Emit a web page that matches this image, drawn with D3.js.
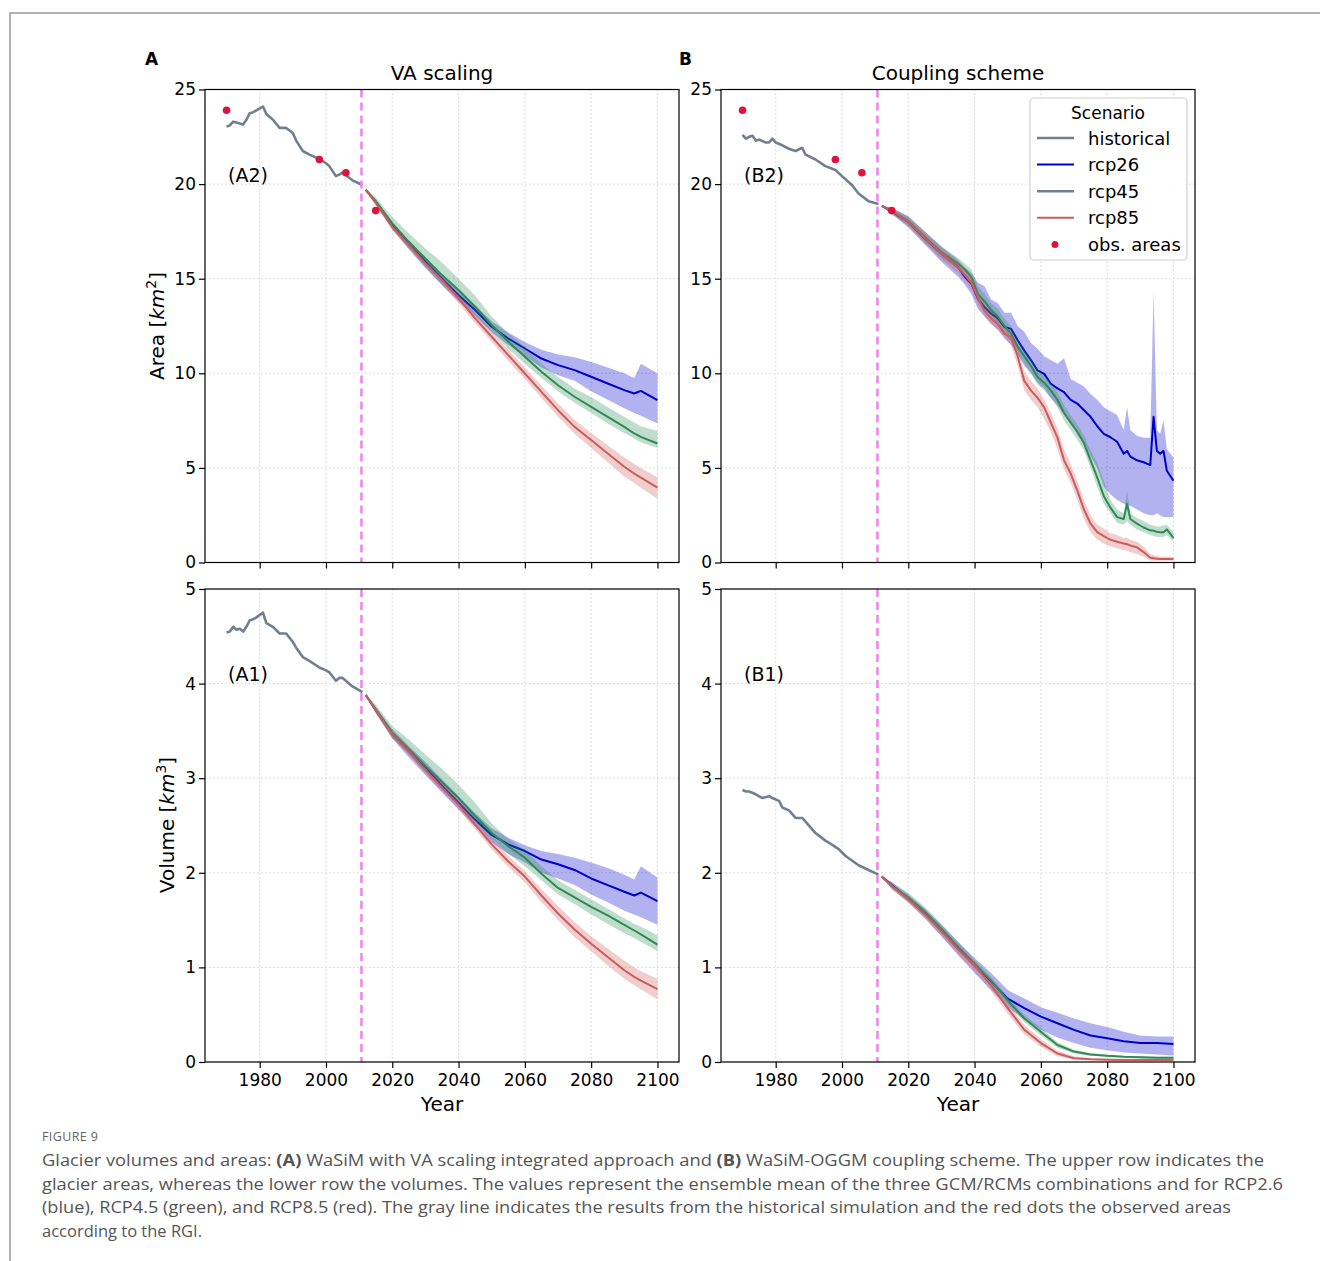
<!DOCTYPE html>
<html lang="en">
<head>
<meta charset="utf-8">
<title>Glacier volumes and areas</title>
<script src="https://cdn.jsdelivr.net/npm/d3@7"></script>
<style>
  body { margin: 0; background: #fff; }
  svg text { font-family: "DejaVu Sans", sans-serif; }
</style>
</head>
<body>
<script>
// ---------- data ----------
var xTicks = [1980, 2000, 2020, 2040, 2060, 2080, 2100];
var areaTicks = [0, 5, 10, 15, 20, 25];
var volTicks = [0, 1, 2, 3, 4, 5];
var cutYear = 2010.7;

var obsYears = [1970, 1998, 2006, 2015];
var obsAreas = [23.9, 21.3, 20.6, 18.6];

// historical simulation, VA scaling (A)
var histYearsA = [1970,1971,1972,1973,1974,1975,1976,1977,1978,1979,1981,1982,1984,1986,1988,1990,1991,1993,1995,1998,2000,2001,2003,2004,2005,2008,2011];
var histAreaA  = [23.05,23.1,23.3,23.25,23.2,23.15,23.4,23.75,23.8,23.9,24.1,23.7,23.4,22.97,22.97,22.7,22.3,21.75,21.56,21.33,21.1,20.95,20.42,20.5,20.6,20.2,19.95];
var histVolA   = [4.54,4.55,4.6,4.57,4.58,4.55,4.6,4.67,4.68,4.7,4.75,4.64,4.6,4.53,4.53,4.44,4.38,4.28,4.24,4.17,4.14,4.12,4.03,4.06,4.06,3.97,3.91];

// historical simulation, coupling scheme (B)
var histYearsB2 = [1970,1971,1972,1973,1974,1975,1977,1978,1979,1980,1982,1984,1986,1988,1989,1992,1995,1998,2000,2003,2005,2008,2011];
var histAreaB   = [22.6,22.4,22.5,22.55,22.3,22.35,22.2,22.2,22.4,22.2,22.05,21.87,21.75,21.92,21.56,21.3,20.95,20.75,20.42,19.95,19.5,19.1,18.95];
var histYearsB1 = [1970,1971,1972,1974,1976,1978,1979,1981,1982,1984,1986,1988,1989,1992,1995,1996,1999,2001,2003,2005,2008,2011];
var histVolB    = [2.875,2.86,2.86,2.83,2.79,2.81,2.79,2.76,2.69,2.66,2.58,2.58,2.54,2.42,2.34,2.32,2.25,2.18,2.13,2.08,2.03,1.98];

// scenarios, VA scaling (A)
var scenYearsA = [2012,2015,2020,2025,2030,2035,2040,2045,2050,2055,2060,2065,2070,2075,2080,2085,2090,2093,2095,2100];
var areaA26    = [19.7,19.07,17.83,16.86,15.9,15.01,14.13,13.34,12.46,11.84,11.31,10.78,10.43,10.17,9.82,9.46,9.11,8.93,9.07,8.58];
var areaA26lo  = [19.7,18.95,17.6,16.55,15.55,14.65,13.8,13.0,12.15,11.5,10.9,10.3,9.9,9.6,9.05,8.6,8.15,7.9,7.75,7.35];
var areaA26hi  = [19.7,19.15,17.95,17.0,16.05,15.15,14.35,13.6,12.75,12.15,11.65,11.25,11.0,10.85,10.6,10.3,10.0,9.75,10.5,10.0];
var areaA45    = [19.7,19.1,17.92,16.95,16.07,15.19,14.4,13.52,12.55,11.67,10.87,10.08,9.37,8.76,8.23,7.7,7.17,6.82,6.64,6.29];
var areaA45lo  = [19.7,18.9,17.6,16.6,15.65,14.7,13.95,13.1,12.2,11.3,10.5,9.75,9.05,8.45,7.9,7.35,6.85,6.55,6.35,6.05];
var areaA45hi  = [19.7,19.3,18.25,17.4,16.6,15.85,15.0,14.1,13.0,12.1,11.4,10.5,9.8,9.2,8.75,8.2,7.7,7.4,7.2,6.95];
var areaA85    = [19.7,19.0,17.74,16.78,15.81,14.93,13.96,12.9,11.93,10.96,9.99,9.02,8.05,7.17,6.47,5.76,5.06,4.7,4.49,3.96];
var areaA85lo  = [19.7,18.9,17.6,16.6,15.6,14.7,13.7,12.65,11.65,10.65,9.7,8.7,7.7,6.8,6.05,5.3,4.55,4.2,3.95,3.35];
var areaA85hi  = [19.7,19.1,17.85,16.9,15.95,15.1,14.15,13.15,12.2,11.25,10.3,9.35,8.4,7.55,6.85,6.2,5.55,5.2,5.0,4.5];

var volA26     = [3.88,3.72,3.47,3.29,3.11,2.92,2.74,2.56,2.40,2.30,2.23,2.14,2.09,2.03,1.94,1.87,1.80,1.76,1.79,1.70];
var volA26lo   = [3.88,3.69,3.42,3.22,3.03,2.85,2.67,2.49,2.32,2.2,2.11,2.0,1.94,1.87,1.77,1.69,1.6,1.56,1.53,1.45];
var volA26hi   = [3.88,3.75,3.52,3.34,3.17,2.99,2.81,2.63,2.47,2.37,2.29,2.23,2.2,2.16,2.11,2.05,1.98,1.93,2.07,1.95];
var volA45     = [3.88,3.73,3.48,3.31,3.13,2.96,2.79,2.6,2.42,2.28,2.16,1.99,1.84,1.74,1.64,1.55,1.45,1.39,1.35,1.24];
var volA45lo   = [3.88,3.69,3.42,3.25,3.06,2.88,2.72,2.54,2.36,2.2,2.07,1.92,1.77,1.67,1.56,1.46,1.36,1.31,1.27,1.17];
var volA45hi   = [3.88,3.78,3.55,3.41,3.25,3.1,2.93,2.74,2.52,2.36,2.24,2.07,1.92,1.82,1.72,1.62,1.52,1.46,1.43,1.34];
var volA85     = [3.88,3.72,3.46,3.28,3.09,2.9,2.72,2.51,2.30,2.12,1.96,1.76,1.57,1.40,1.25,1.11,0.97,0.9,0.86,0.77];
var volA85lo   = [3.88,3.7,3.43,3.25,3.05,2.86,2.67,2.46,2.25,2.06,1.9,1.69,1.5,1.32,1.17,1.02,0.88,0.81,0.77,0.66];
var volA85hi   = [3.88,3.74,3.49,3.31,3.12,2.95,2.77,2.56,2.36,2.18,2.02,1.83,1.65,1.48,1.33,1.2,1.07,1.0,0.96,0.88];

// scenarios, coupling scheme (B)
var scenYearsB2 = [2012,2015,2020,2025,2030,2035,2037,2039,2041,2043,2045,2047,2049,2051,2053,2055,2057,2059,2061,2063,2065,2067,2069,2071,2073,2075,2077,2079,2081,2083,2085,2086,2087,2089,2091,2093,2094,2095,2096,2097,2098,2100];
var areaB26   = [18.85,18.55,18.0,17.12,16.33,15.62,15.1,14.75,13.95,13.5,13.15,12.9,12.45,12.35,11.75,11.2,10.7,10.15,9.97,9.45,9.2,9.0,8.6,8.4,8.05,7.7,7.2,6.8,6.62,6.38,5.75,5.9,5.6,5.4,5.3,5.15,7.7,5.9,5.75,5.9,4.85,4.32];
var areaB26lo = [18.85,18.4,17.7,16.8,15.9,15.1,14.7,14.2,13.4,13.0,12.6,12.3,11.9,11.5,11.0,10.4,10.0,9.5,9.2,8.7,8.3,7.8,7.3,6.9,6.3,5.6,5.0,4.0,3.6,3.3,3.1,3.0,3.0,2.8,2.6,2.5,2.5,2.6,2.5,2.4,2.4,2.4];
var areaB26hi = [18.85,18.75,18.3,17.5,16.7,16.0,15.6,15.3,14.8,14.6,13.9,13.7,13.2,13.2,12.5,12.2,11.6,11.3,10.9,10.7,10.5,10.8,9.7,9.5,9.3,8.9,8.6,8.2,8.0,7.8,7.0,8.2,7.0,6.7,6.6,6.6,14.3,7.0,6.8,7.5,6.0,5.55];
var areaB45   = [18.85,18.6,18.05,17.2,16.4,15.8,15.5,15.1,14.2,13.8,13.35,13.0,12.5,12.1,11.4,10.9,10.4,9.8,9.5,9.1,8.6,7.9,7.4,6.9,6.3,5.4,4.5,3.5,2.9,2.4,2.3,3.1,2.3,2.05,1.85,1.7,1.68,1.62,1.6,1.6,1.75,1.3];
var areaB45lo = [18.85,18.45,17.8,16.9,16.1,15.5,15.2,14.7,13.9,13.4,13.0,12.6,12.1,11.7,11.0,10.5,10.0,9.4,9.1,8.7,8.2,7.5,7.0,6.5,5.9,5.0,4.0,3.1,2.6,2.1,2.0,2.2,2.0,1.75,1.6,1.45,1.4,1.35,1.35,1.35,1.45,1.1];
var areaB45hi = [18.85,18.75,18.3,17.5,16.7,16.1,15.8,15.5,14.6,14.2,13.7,13.4,12.9,12.5,11.8,11.3,10.8,10.2,9.9,9.5,9.0,8.3,7.8,7.3,6.7,5.9,5.3,4.3,3.3,2.8,2.6,3.8,2.6,2.35,2.2,2.0,1.95,1.9,1.9,1.95,2.0,1.6];
var areaB85   = [18.85,18.6,18.0,17.15,16.35,15.6,15.2,14.8,14.0,13.3,12.9,12.6,12.1,11.9,10.9,9.6,9.1,8.7,8.2,7.4,6.6,5.4,4.7,3.8,2.8,2.05,1.6,1.4,1.2,1.1,1.0,0.97,0.9,0.8,0.55,0.25,0.22,0.2,0.18,0.18,0.18,0.18];
var areaB85lo = [18.85,18.45,17.8,16.9,16.0,15.3,14.9,14.4,13.6,13.0,12.6,12.3,11.8,11.5,10.4,9.1,8.6,8.2,7.6,6.9,6.0,4.9,4.2,3.3,2.3,1.6,1.2,1.0,0.85,0.75,0.65,0.62,0.55,0.45,0.3,0.1,0.1,0.1,0.1,0.1,0.1,0.1];
var areaB85hi = [18.85,18.7,18.2,17.4,16.6,15.9,15.5,15.1,14.3,13.6,13.2,12.9,12.4,12.2,11.3,10.1,9.6,9.2,8.6,7.9,7.1,6.0,5.2,4.3,3.3,2.5,2.0,1.8,1.55,1.45,1.3,1.3,1.2,1.1,0.85,0.45,0.4,0.35,0.3,0.3,0.3,0.3];

var scenYearsB1 = [2012,2015,2020,2025,2030,2035,2040,2045,2050,2055,2060,2065,2070,2075,2080,2085,2090,2095,2100];
var volB26    = [1.96,1.87,1.73,1.57,1.39,1.20,1.02,0.85,0.67,0.57,0.48,0.41,0.34,0.28,0.25,0.22,0.20,0.20,0.19];
var volB26lo  = [1.96,1.84,1.69,1.52,1.33,1.13,0.94,0.76,0.58,0.45,0.34,0.26,0.2,0.15,0.125,0.1,0.09,0.08,0.07];
var volB26hi  = [1.96,1.9,1.77,1.62,1.45,1.27,1.1,0.94,0.76,0.67,0.58,0.52,0.46,0.41,0.37,0.32,0.28,0.27,0.27];
var volB45    = [1.96,1.86,1.74,1.59,1.41,1.22,1.04,0.86,0.65,0.46,0.32,0.18,0.11,0.08,0.065,0.055,0.05,0.045,0.045];
var volB45lo  = [1.96,1.82,1.7,1.55,1.37,1.18,1.0,0.82,0.61,0.42,0.28,0.15,0.09,0.065,0.055,0.045,0.04,0.035,0.035];
var volB45hi  = [1.96,1.9,1.79,1.64,1.46,1.27,1.08,0.9,0.69,0.5,0.36,0.21,0.13,0.095,0.075,0.065,0.06,0.055,0.055];
var volB85    = [1.96,1.86,1.72,1.56,1.38,1.19,1.02,0.81,0.57,0.34,0.20,0.09,0.04,0.03,0.025,0.02,0.02,0.02,0.02];
var volB85lo  = [1.96,1.83,1.68,1.52,1.33,1.14,0.96,0.75,0.51,0.29,0.16,0.06,0.025,0.02,0.015,0.01,0.01,0.01,0.01];
var volB85hi  = [1.96,1.88,1.75,1.6,1.42,1.23,1.06,0.86,0.62,0.39,0.24,0.12,0.06,0.04,0.035,0.03,0.03,0.03,0.03];

// ---------- drawing ----------
var w = 1320, h = 1261;
var pw = 474, ph = 473;
var colHist = "#708090", col26 = "#0000cd", col45 = "#2e8b57", col85 = "#cd5c5c", colObs = "#dc143c";

var svg = d3.select("body").append("svg")
	.attr("width", w)
	.attr("height", h);

// outer frame of the figure box
svg.append("path")
	.attr("d", "M10,1261V13H1320")
	.attr("fill", "none")
	.attr("stroke", "#999")
	.attr("stroke-width", 1.5);

function zip(years, a, b, c) {
	return years.map(function(yr, i) {
		return { year: yr, v: a[i], lo: b ? b[i] : null, hi: c ? c[i] : null };
	});
}

function drawPanel(p) {
	var x = d3.scaleLinear().domain([1963.5, 2106.5]).range([p.left, p.left + pw]);
	var y = d3.scaleLinear().domain([0, p.yMax]).range([p.top + ph, p.top]);
	var g = svg.append("g");

	//grid
	g.selectAll(".gx").data(xTicks).enter().append("line")
		.attr("x1", function(d) { return x(d); })
		.attr("x2", function(d) { return x(d); })
		.attr("y1", p.top).attr("y2", p.top + ph)
		.attr("stroke", "#d4d4d4").attr("stroke-width", 1).attr("stroke-dasharray", "1.5,2.5");
	g.selectAll(".gy").data(p.yTicks).enter().append("line")
		.attr("x1", p.left).attr("x2", p.left + pw)
		.attr("y1", function(d) { return y(d); })
		.attr("y2", function(d) { return y(d); })
		.attr("stroke", "#d4d4d4").attr("stroke-width", 1).attr("stroke-dasharray", "1.5,2.5");

	var line = d3.line().x(function(d) { return x(d.year); }).y(function(d) { return y(d.v); });
	var area = d3.area().x(function(d) { return x(d.year); })
		.y0(function(d) { return y(d.lo); })
		.y1(function(d) { return y(d.hi); });

	//historical
	g.append("path").datum(zip(p.histYears, p.hist))
		.attr("d", line).attr("fill", "none")
		.attr("stroke", colHist).attr("stroke-width", 2.6).attr("stroke-linejoin", "round");

	//scenarios: band then mean line
	p.scen.forEach(function(s) {
		var data = zip(p.scenYears, s.mean, s.lo, s.hi);
		g.append("path").datum(data).attr("d", area)
			.attr("fill", s.color).attr("fill-opacity", 0.3).attr("stroke", "none");
		g.append("path").datum(data).attr("d", line)
			.attr("fill", "none").attr("stroke", s.color).attr("stroke-width", 2).attr("stroke-linejoin", "round");
	});

	//start of projections
	g.append("line")
		.attr("x1", x(cutYear)).attr("x2", x(cutYear))
		.attr("y1", p.top).attr("y2", p.top + ph)
		.attr("stroke", "#ee82ee").attr("stroke-width", 2.5).attr("stroke-dasharray", "8,5");

	if (p.obs) {
		g.selectAll(".obs").data(obsYears).enter().append("circle")
			.attr("cx", function(d) { return x(d); })
			.attr("cy", function(d, i) { return y(obsAreas[i]); })
			.attr("r", 3.8)
			.attr("fill", colObs);
	}

	//axes
	var yAxis = d3.axisLeft(y).tickValues(p.yTicks).tickSize(6).tickPadding(3).tickFormat(d3.format("d"));
	g.append("g").attr("transform", "translate(" + p.left + ",0)").call(yAxis)
		.attr("font-size", 17).attr("font-family", "DejaVu Sans")
		.call(function(a) { a.select(".domain").remove(); });
	var xAxis = d3.axisBottom(x).tickValues(xTicks).tickSize(6).tickPadding(6).tickFormat(d3.format("d"));
	if (!p.xLabels) xAxis.tickFormat("");
	g.append("g").attr("transform", "translate(0," + (p.top + ph) + ")").call(xAxis)
		.attr("font-size", 17).attr("font-family", "DejaVu Sans")
		.call(function(a) { a.select(".domain").remove(); });
	g.selectAll(".tick line").attr("stroke", "#000").attr("stroke-width", 1.2);
	g.selectAll(".tick text").attr("fill", "#000");

	g.append("rect")
		.attr("x", p.left).attr("y", p.top)
		.attr("width", pw).attr("height", ph)
		.attr("fill", "none").attr("stroke", "#000").attr("stroke-width", 1.2);

	g.append("text")
		.attr("x", p.left + 23).attr("y", p.top + 92)
		.attr("font-size", 19).attr("fill", "#000")
		.text(p.tag);

	if (p.xLabels) {
		g.append("text")
			.attr("x", p.left + pw / 2).attr("y", p.top + ph + 49)
			.attr("text-anchor", "middle").attr("font-size", 20)
			.text("Year");
	}
	return { x: x, y: y };
}

var scenA2 = [
	{ color: col26, mean: areaA26, lo: areaA26lo, hi: areaA26hi },
	{ color: col45, mean: areaA45, lo: areaA45lo, hi: areaA45hi },
	{ color: col85, mean: areaA85, lo: areaA85lo, hi: areaA85hi }];
var scenA1 = [
	{ color: col26, mean: volA26, lo: volA26lo, hi: volA26hi },
	{ color: col45, mean: volA45, lo: volA45lo, hi: volA45hi },
	{ color: col85, mean: volA85, lo: volA85lo, hi: volA85hi }];
var scenB2 = [
	{ color: col26, mean: areaB26, lo: areaB26lo, hi: areaB26hi },
	{ color: col45, mean: areaB45, lo: areaB45lo, hi: areaB45hi },
	{ color: col85, mean: areaB85, lo: areaB85lo, hi: areaB85hi }];
var scenB1 = [
	{ color: col26, mean: volB26, lo: volB26lo, hi: volB26hi },
	{ color: col45, mean: volB45, lo: volB45lo, hi: volB45hi },
	{ color: col85, mean: volB85, lo: volB85lo, hi: volB85hi }];

drawPanel({ left: 205, top: 89.5, yMax: 25, yTicks: areaTicks, histYears: histYearsA, hist: histAreaA,
	scenYears: scenYearsA, scen: scenA2, obs: true, xLabels: false, tag: "(A2)" });
drawPanel({ left: 721, top: 89.5, yMax: 25, yTicks: areaTicks, histYears: histYearsB2, hist: histAreaB,
	scenYears: scenYearsB2, scen: scenB2, obs: true, xLabels: false, tag: "(B2)" });
drawPanel({ left: 205, top: 589, yMax: 5, yTicks: volTicks, histYears: histYearsA, hist: histVolA,
	scenYears: scenYearsA, scen: scenA1, obs: false, xLabels: true, tag: "(A1)" });
drawPanel({ left: 721, top: 589, yMax: 5, yTicks: volTicks, histYears: histYearsB1, hist: histVolB,
	scenYears: scenYearsB1, scen: scenB1, obs: false, xLabels: true, tag: "(B1)" });

//titles and panel letters
svg.append("text").attr("x", 205 + pw / 2).attr("y", 80).attr("text-anchor", "middle")
	.attr("font-size", 20).text("VA scaling");
svg.append("text").attr("x", 721 + pw / 2).attr("y", 80).attr("text-anchor", "middle")
	.attr("font-size", 20).text("Coupling scheme");
svg.append("text").attr("x", 145).attr("y", 65).attr("font-size", 17).attr("font-weight", "bold").text("A");
svg.append("text").attr("x", 679).attr("y", 65).attr("font-size", 17).attr("font-weight", "bold").text("B");

//y labels with km^2 / km^3
function yLabel(cx, cy, word, power) {
	var t = svg.append("text")
		.attr("transform", "translate(" + cx + "," + cy + ") rotate(-90)")
		.attr("text-anchor", "middle").attr("font-size", 20);
	t.append("tspan").text(word + " [");
	t.append("tspan").attr("font-style", "italic").text("km");
	t.append("tspan").attr("font-size", 14).attr("dy", -8).text(power);
	t.append("tspan").attr("dy", 8).text("]");
}
yLabel(164, 326, "Area", "2");
yLabel(174, 825, "Volume", "3");

//legend
var lg = svg.append("g");
lg.append("rect").attr("x", 1030).attr("y", 98).attr("width", 157).attr("height", 162).attr("rx", 4)
	.attr("fill", "#fff").attr("fill-opacity", 0.85).attr("stroke", "#d0d0d0").attr("stroke-width", 1.2);
lg.append("text").attr("x", 1108).attr("y", 119).attr("text-anchor", "middle").attr("font-size", 17).text("Scenario");
var legendNames = ["historical", "rcp26", "rcp45", "rcp85", "obs. areas"];
var legendColors = [colHist, col26, colHist, col85, colObs];
legendNames.forEach(function(name, i) {
	var yy = 138 + i * 26.6;
	if (i < 4) {
		lg.append("line").attr("x1", 1037).attr("x2", 1074).attr("y1", yy).attr("y2", yy)
			.attr("stroke", legendColors[i]).attr("stroke-width", i === 0 || i === 2 ? 2.6 : 2);
	} else {
		lg.append("circle").attr("cx", 1055).attr("cy", yy).attr("r", 3.5).attr("fill", legendColors[i]);
	}
	lg.append("text").attr("x", 1088).attr("y", yy + 6.5).attr("font-size", 18).text(name);
});

//caption
var cap = svg.append("g").attr("font-family", "'Open Sans', sans-serif");
cap.append("text").attr("x", 42).attr("y", 1141).attr("font-size", 12.5).attr("fill", "#666")
	.attr("letter-spacing", 0.4).style("font-family", "'Open Sans', sans-serif").text("FIGURE 9");
var l1 = cap.append("text").attr("x", 42).attr("y", 1166).attr("font-size", 16.5).attr("fill", "#555")
	.attr("textLength", 1222).attr("lengthAdjust", "spacingAndGlyphs").style("font-family", "'Open Sans', sans-serif");
l1.append("tspan").text("Glacier volumes and areas: ");
l1.append("tspan").attr("font-weight", "bold").text("(A)");
l1.append("tspan").text(" WaSiM with VA scaling integrated approach and ");
l1.append("tspan").attr("font-weight", "bold").text("(B)");
l1.append("tspan").text(" WaSiM-OGGM coupling scheme. The upper row indicates the");
var capLines = [
	"glacier areas, whereas the lower row the volumes. The values represent the ensemble mean of the three GCM/RCMs combinations and for RCP2.6",
	"(blue), RCP4.5 (green), and RCP8.5 (red). The gray line indicates the results from the historical simulation and the red dots the observed areas",
	"according to the RGI."];
var capWidths = [1241, 1189, null];
capLines.forEach(function(s, i) {
	var t = cap.append("text").attr("x", 42).attr("y", 1189.5 + i * 23.5).attr("font-size", 16.5).attr("fill", "#555")
		.style("font-family", "'Open Sans', sans-serif").text(s);
	if (capWidths[i]) t.attr("textLength", capWidths[i]).attr("lengthAdjust", "spacingAndGlyphs");
});
</script>
</body>
</html>
